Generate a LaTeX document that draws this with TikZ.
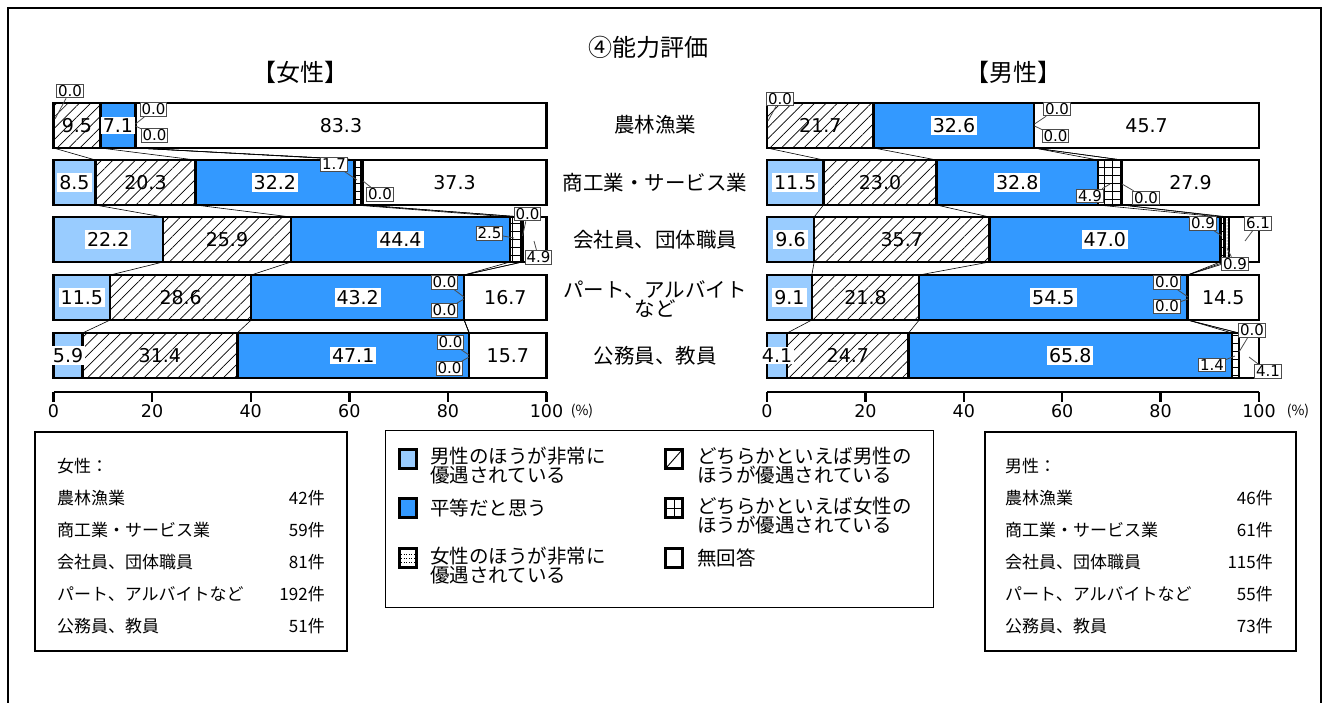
\documentclass[tikz,border=0pt]{standalone}
\usepackage{fontspec}
\setmainfont{Noto Sans CJK JP}
\newfontfamily\numfont{DejaVu Sans}
\usetikzlibrary{patterns.meta,calc}
\definecolor{lblue}{HTML}{99CCFF}
\definecolor{mblue}{HTML}{3399FF}
\newcommand\fsz[1]{\fontsize{#1}{#1}\selectfont}
\tikzset{
  seg/.style={draw=black,line width=2.6pt},
  sA/.style={seg,fill=lblue},
  sB/.style={seg,pattern={Lines[angle=45,distance=8pt,line width=0.7pt]}},
  sC/.style={seg,fill=mblue},
  sD/.style={seg,pattern={Hatch[angle=0,distance=8pt,line width=0.8pt]}},
  sE/.style={seg,pattern={Dots[distance=3pt,radius=0.5pt]}},
  sF/.style={seg,fill=white},
  lab/.style={fill=white,inner sep=2pt,font=\numfont\fsz{19}},
  labh/.style={inner sep=2pt,font=\numfont\fsz{19}},
  call/.style={draw=black!70,line width=0.8pt,fill=white,inner sep=1.2pt,font=\numfont\fsz{15}},
  callline/.style={draw=black!70,line width=0.8pt},
  serline/.style={line width=0.6pt},
  axisline/.style={line width=2.4pt},
  ticklab/.style={font=\numfont\fsz{17.5}},
  cat/.style={font=\fsz{20.5},align=center},
  legsym/.style={draw=black,line width=2.5pt,minimum width=17pt,minimum height=19pt,inner sep=0pt,fill=white},
  legtext/.style={font=\fontsize{19.5}{18}\selectfont,align=left,anchor=west,inner sep=0pt},
  tabtext/.style={font=\fsz{17},anchor=west,inner sep=0pt},
  tabnum/.style={font=\fsz{17},anchor=east,inner sep=0pt},
}
\newcommand\barrow[8]{%
  \pgfmathsetmacro\bTot{#3+#4+#5+#6+#7+#8}%
  \pgfmathsetmacro\cA{\bx+\bw*((#3)/\bTot)}%
  \pgfmathsetmacro\cB{\bx+\bw*((#3+#4)/\bTot)}%
  \pgfmathsetmacro\cC{\bx+\bw*((#3+#4+#5)/\bTot)}%
  \pgfmathsetmacro\cD{\bx+\bw*((#3+#4+#5+#6)/\bTot)}%
  \pgfmathsetmacro\cE{\bx+\bw*((#3+#4+#5+#6+#7)/\bTot)}%
  \pgfmathsetmacro\cF{\bx+\bw}%
  \pgfmathsetmacro\yB{#2+45}%
  \coordinate (#1-t0) at (\bx,#2); \coordinate (#1-b0) at (\bx,\yB);
  \coordinate (#1-t1) at (\cA,#2); \coordinate (#1-b1) at (\cA,\yB);
  \coordinate (#1-t2) at (\cB,#2); \coordinate (#1-b2) at (\cB,\yB);
  \coordinate (#1-t3) at (\cC,#2); \coordinate (#1-b3) at (\cC,\yB);
  \coordinate (#1-t4) at (\cD,#2); \coordinate (#1-b4) at (\cD,\yB);
  \coordinate (#1-t5) at (\cE,#2); \coordinate (#1-b5) at (\cE,\yB);
  \coordinate (#1-t6) at (\cF,#2); \coordinate (#1-b6) at (\cF,\yB);
  \draw[sA] (#1-t0) rectangle (#1-b1);
  \draw[sB] (#1-t1) rectangle (#1-b2);
  \draw[sC] (#1-t2) rectangle (#1-b3);
  \draw[sF] (#1-t5) rectangle (#1-b6);
  \draw[sD] (#1-t3) rectangle (#1-b4);
  \draw[sE] (#1-t4) rectangle (#1-b5);
}
\newcommand\seglab[5]{\node[#5] (#1-l#3) at ($(#1-t#2)!0.5!(#1-b#3)$) {#4};}
\newcommand\callout[6]{%
  \coordinate (#1-p) at (#5,#6);
  \node[call] (#1) at (#2,#3) {#4};
  \draw[callline] (#1) -- (#1-p);
}
\begin{document}
\begin{tikzpicture}[x=1pt,y=-1pt]
\useasboundingbox (0,0) rectangle (1324,703);
\fill[white] (0,0) rectangle (1324,703);
\draw[line width=2pt] (8,703) -- (8,8) -- (1321,8) -- (1321,703);

% titles
\node[font=\fsz{24}] (title) at (648,47) {④能力評価};
\node[font=\fsz{24}] (hf) at (300,72) {【女性】};
\node[font=\fsz{24}] (hm) at (1013,72) {【男性】};

% category labels
\node[cat] (k1) at (655,125) {農林漁業};
\node[cat] (k2) at (655,183) {商工業・サービス業};
\node[cat] (k3) at (655,240) {会社員、団体職員};
\node[cat,font=\fontsize{20.5}{17}\selectfont] (k4) at (655,299) {パート、アルバイト\\など};
\node[cat] (k5) at (655,356) {公務員、教員};

% ===== left chart =====
\def\bx{53.5}\def\bw{493}
\barrow{L1}{103}{0.0}{9.5}{7.1}{0.0}{0.0}{83.3}
\barrow{L2}{160}{8.5}{20.3}{32.2}{1.7}{0.0}{37.3}
\barrow{L3}{217}{22.2}{25.9}{44.4}{2.5}{0.0}{4.9}
\barrow{L4}{275}{11.5}{28.6}{43.2}{0.0}{0.0}{16.7}
\barrow{L5}{333}{5.9}{31.4}{47.1}{0.0}{0.0}{15.7}
\foreach \i/\j in {1/2,2/3,3/4,4/5}
  \foreach \k in {1,...,5}
    \draw[serline] (L\i-b\k) -- (L\j-t\k);
\draw[axisline] (\bx,392) -- (\bx+\bw,392);
\foreach \v in {0,20,40,60,80,100} {
  \draw[axisline] ({\bx+\bw*(\v/100)},392) -- ({\bx+\bw*(\v/100)},402);
  \node[ticklab] (Lt\v) at ({\bx+\bw*(\v/100)},411) {\v};
}
\node[font=\fsz{14}] (Lpct) at (582,411) {(\%)};

\seglab{L1}{1}{2}{9.5}{labh}
\seglab{L1}{2}{3}{7.1}{lab}
\seglab{L1}{5}{6}{83.3}{lab}
\seglab{L2}{0}{1}{8.5}{lab}
\seglab{L2}{1}{2}{20.3}{labh}
\seglab{L2}{2}{3}{32.2}{lab}
\seglab{L2}{5}{6}{37.3}{lab}
\seglab{L3}{0}{1}{22.2}{lab}
\seglab{L3}{1}{2}{25.9}{labh}
\seglab{L3}{2}{3}{44.4}{lab}
\seglab{L4}{0}{1}{11.5}{lab}
\seglab{L4}{1}{2}{28.6}{labh}
\seglab{L4}{2}{3}{43.2}{lab}
\seglab{L4}{5}{6}{16.7}{lab}
\seglab{L5}{0}{1}{5.9}{lab}
\seglab{L5}{1}{2}{31.4}{labh}
\seglab{L5}{2}{3}{47.1}{lab}
\seglab{L5}{5}{6}{15.7}{lab}

\callout{cLa}{70}{91}{0.0}{55}{119}
\callout{cLb}{153.5}{109.5}{0.0}{135.5}{124}
\callout{cLc}{154.5}{135.5}{0.0}{135.5}{126}
\callout{cLd}{334}{164.5}{1.7}{357}{180}
\callout{cLe}{380}{194.5}{0.0}{363}{181}
\callout{cLf}{489.5}{233.5}{2.5}{514}{238}
\callout{cLg}{527.5}{214}{0.0}{522.5}{236}
\callout{cLh}{538.5}{257.5}{4.9}{534}{241}
\callout{cLi}{444.5}{282.5}{0.0}{464}{297}
\callout{cLj}{444.5}{310.5}{0.0}{464}{299}
\callout{cLk}{450.5}{342.5}{0.0}{469}{355}
\callout{cLl}{449.5}{368.5}{0.0}{469}{357}

% ===== right chart =====
\def\bx{767}\def\bw{492}
\barrow{R1}{103}{0.0}{21.7}{32.6}{0.0}{0.0}{45.7}
\barrow{R2}{160}{11.5}{23.0}{32.8}{4.9}{0.0}{27.9}
\barrow{R3}{217}{9.6}{35.7}{47.0}{0.9}{0.9}{6.1}
\barrow{R4}{275}{9.1}{21.8}{54.5}{0.0}{0.0}{14.5}
\barrow{R5}{333}{4.1}{24.7}{65.8}{1.4}{0.0}{4.1}
\foreach \i/\j in {1/2,2/3,3/4,4/5}
  \foreach \k in {1,...,5}
    \draw[serline] (R\i-b\k) -- (R\j-t\k);
\draw[axisline] (\bx,392) -- (\bx+\bw,392);
\foreach \v in {0,20,40,60,80,100} {
  \draw[axisline] ({\bx+\bw*(\v/100)},392) -- ({\bx+\bw*(\v/100)},402);
  \node[ticklab] (Rt\v) at ({\bx+\bw*(\v/100)},411) {\v};
}
\node[font=\fsz{14}] (Rpct) at (1298,411) {(\%)};

\seglab{R1}{1}{2}{21.7}{labh}
\seglab{R1}{2}{3}{32.6}{lab}
\seglab{R1}{5}{6}{45.7}{lab}
\seglab{R2}{0}{1}{11.5}{lab}
\seglab{R2}{1}{2}{23.0}{labh}
\seglab{R2}{2}{3}{32.8}{lab}
\seglab{R2}{5}{6}{27.9}{lab}
\seglab{R3}{0}{1}{9.6}{lab}
\seglab{R3}{1}{2}{35.7}{labh}
\seglab{R3}{2}{3}{47.0}{lab}
\seglab{R4}{0}{1}{9.1}{lab}
\seglab{R4}{1}{2}{21.8}{labh}
\seglab{R4}{2}{3}{54.5}{lab}
\seglab{R4}{5}{6}{14.5}{lab}
\seglab{R5}{0}{1}{4.1}{lab}
\seglab{R5}{1}{2}{24.7}{labh}
\seglab{R5}{2}{3}{65.8}{lab}

\callout{cRa}{780}{99}{0.0}{768}{121}
\callout{cRb}{1057}{109}{0.0}{1034.5}{124}
\callout{cRc}{1055.5}{136}{0.0}{1034.5}{126}
\callout{cRd}{1090}{196}{4.9}{1110}{184}
\callout{cRe}{1146}{198}{0.0}{1122}{184}
\callout{cRf}{1203}{223.5}{0.9}{1222}{236}
\callout{cRg}{1235}{264}{0.9}{1227}{248}
\callout{cRh}{1258}{223.5}{6.1}{1245}{241}
\callout{cRi}{1167}{282.5}{0.0}{1188}{297}
\callout{cRj}{1167}{306.5}{0.0}{1188}{299}
\callout{cRk}{1252}{330.5}{0.0}{1239}{352}
\callout{cRl}{1212}{365}{1.4}{1235}{356}
\callout{cRm}{1268}{371.5}{4.1}{1249}{357}

% ===== left table =====
\draw[line width=1.8pt] (35,432) rectangle (347,651);
\node[tabtext] (ft0) at (57,466) {女性：};
\node[tabtext] (ft1) at (57,498) {農林漁業};
\node[tabnum]  (fn1) at (325,498) {42件};
\node[tabtext] (ft2) at (57,530) {商工業・サービス業};
\node[tabnum]  (fn2) at (325,530) {59件};
\node[tabtext] (ft3) at (57,562) {会社員、団体職員};
\node[tabnum]  (fn3) at (325,562) {81件};
\node[tabtext] (ft4) at (57,594) {パート、アルバイトなど};
\node[tabnum]  (fn4) at (325,594) {192件};
\node[tabtext] (ft5) at (57,626) {公務員、教員};
\node[tabnum]  (fn5) at (325,626) {51件};

% ===== right table =====
\draw[line width=1.8pt] (985,432) rectangle (1296,651);
\node[tabtext] (mt0) at (1005,466) {男性：};
\node[tabtext] (mt1) at (1005,498) {農林漁業};
\node[tabnum]  (mn1) at (1273,498) {46件};
\node[tabtext] (mt2) at (1005,530) {商工業・サービス業};
\node[tabnum]  (mn2) at (1273,530) {61件};
\node[tabtext] (mt3) at (1005,562) {会社員、団体職員};
\node[tabnum]  (mn3) at (1273,562) {115件};
\node[tabtext] (mt4) at (1005,594) {パート、アルバイトなど};
\node[tabnum]  (mn4) at (1273,594) {55件};
\node[tabtext] (mt5) at (1005,626) {公務員、教員};
\node[tabnum]  (mn5) at (1273,626) {73件};

% ===== legend =====
\draw[line width=1pt] (385,430) rectangle (933,607);
\node[legsym,fill=lblue] (g1) at (408,459) {};
\node[legsym,fill=mblue] (g2) at (408,508) {};
\node[legsym] (g3) at (408,558) {};
\foreach \dy in {-4,0,4}
  \draw[dotted,line width=0.6pt] ($(g3.center)+(-7,\dy)$) -- ($(g3.center)+(7,\dy)$);
\node[legsym] (g4) at (674,459) {};
\draw[line width=0.9pt] ($(g4.south west)+(2,-2)$) -- ($(g4.north east)+(-2,2)$);
\node[legsym] (g5) at (674,508) {};
\draw[line width=0.9pt] (g5.north) -- (g5.south);
\draw[line width=0.9pt] (g5.west) -- (g5.east);
\node[legsym] (g6) at (674,558) {};
\node[legtext] (e1) at (430,466) {男性のほうが非常に\\優遇されている};
\node[legtext] (e2) at (430,508) {平等だと思う};
\node[legtext] (e3) at (430,566) {女性のほうが非常に\\優遇されている};
\node[legtext] (e4) at (697,466) {どちらかといえば男性の\\ほうが優遇されている};
\node[legtext] (e5) at (697,516) {どちらかといえば女性の\\ほうが優遇されている};
\node[legtext] (e6) at (697,558) {無回答};
\end{tikzpicture}
\end{document}
